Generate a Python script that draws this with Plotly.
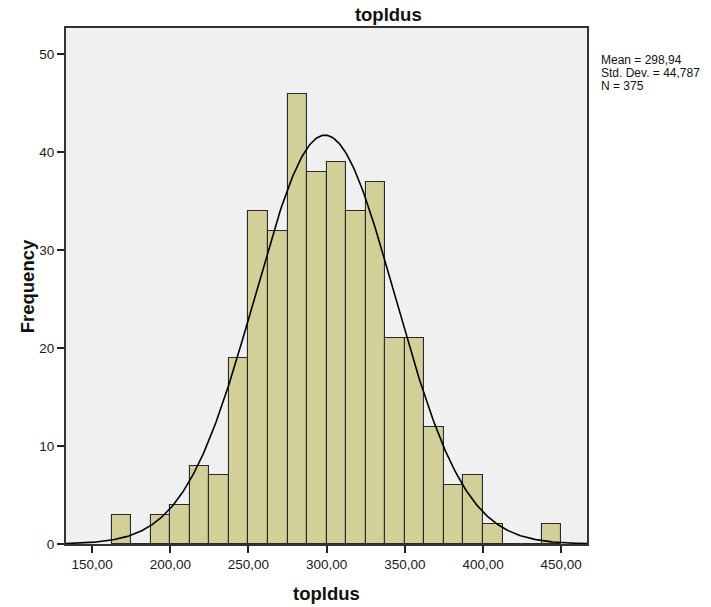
import numpy as np
import plotly.graph_objects as go

# ---- data ----
bin_lower = [162.5, 175.0, 187.5, 200.0, 212.5, 225.0, 237.5, 250.0, 262.5, 275.0,
             287.5, 300.0, 312.5, 325.0, 337.5, 350.0, 362.5, 375.0, 387.5, 400.0,
             412.5, 425.0, 437.5]
counts = [3, 0, 3, 4, 8, 7, 19, 34, 32, 46,
          38, 39, 34, 37, 21, 21, 12, 6, 7, 2,
          0, 0, 2]
bin_width = 12.5
mean_val = 298.94
std_val = 44.787
n_val = 375

x_tickvals = [150, 200, 250, 300, 350, 400, 450]
x_ticktext = ["150,00", "200,00", "250,00", "300,00", "350,00", "400,00", "450,00"]
y_tickvals = [0, 10, 20, 30, 40, 50]
stats_lines = ["Mean = 298,94", "Std. Dev. = 44,787", "N = 375"]

x_range = [133.3, 466.5]
y_range = [0, 52.7]

centers = [b + bin_width / 2 for b in bin_lower]

# fitted normal curve scaled to frequency
xs = np.linspace(x_range[0], x_range[1], 400)
ys = n_val * bin_width / (std_val * np.sqrt(2 * np.pi)) * np.exp(-0.5 * ((xs - mean_val) / std_val) ** 2)

FONT = "Liberation Sans, Arial, sans-serif"

W, H = 711, 607
plot_l, plot_r, plot_t, plot_b = 65.7, 586.7, 28.3, 544

fig = go.Figure()
fig.add_trace(go.Bar(
    x=centers, y=counts, width=bin_width,
    marker=dict(color="#D3CF98", line=dict(color="#2a2a2a", width=1.1)),
    hoverinfo="x+y", showlegend=False,
))
fig.add_trace(go.Scatter(
    x=xs, y=ys, mode="lines",
    line=dict(color="#000000", width=1.6),
    hoverinfo="skip", showlegend=False,
))

fig.update_layout(
    width=W, height=H,
    margin=dict(l=plot_l, r=W - plot_r, t=plot_t, b=H - plot_b, autoexpand=False),
    paper_bgcolor="#FFFFFF",
    plot_bgcolor="#F0F0F0",
    bargap=0,
    font=dict(family=FONT, color="#1a1a1a", size=13.5),
    title=dict(
        text="<b>topldus</b>", font=dict(family=FONT, size=18.5, color="#111111"),
        xref="paper", x=(388 - plot_l) / (plot_r - plot_l), xanchor="center",
        yref="container", y=1 - 14.5 / H, yanchor="middle",
    ),
)

fig.update_xaxes(
    range=x_range, tickvals=x_tickvals, ticktext=x_ticktext,
    showgrid=False, zeroline=False,
    showline=True, mirror=True, linecolor="#333333", linewidth=2,
    ticks="outside", ticklen=7, tickwidth=1.5, tickcolor="#222222",
    tickfont=dict(family=FONT, size=13.5, color="#1a1a1a"),
)
fig.update_yaxes(
    range=y_range, tickvals=y_tickvals,
    showgrid=False, zeroline=False,
    showline=True, mirror=True, linecolor="#333333", linewidth=2,
    ticks="outside", ticklen=7, tickwidth=1.5, tickcolor="#222222",
    tickfont=dict(family=FONT, size=13.5, color="#1a1a1a"),
)

# axis titles
fig.add_annotation(
    text="<b>topldus</b>", xref="paper", yref="paper", x=0.5, y=0,
    xanchor="center", yanchor="middle", yshift=-49, showarrow=False,
    font=dict(family=FONT, size=18.5, color="#111111"),
)
fig.add_annotation(
    text="<b>Frequency</b>", xref="paper", yref="paper", x=0, y=0.5,
    xanchor="center", yanchor="middle", xshift=-38.7, textangle=-90, showarrow=False,
    font=dict(family=FONT, size=18.5, color="#111111"),
)

# statistics box text
for line, py in zip(stats_lines, [60.7, 73.6, 86.5]):
    fig.add_annotation(
        text=line, xref="paper", yref="paper", x=1, y=1,
        xanchor="left", yanchor="middle", xshift=12.3, yshift=-(py - 28.3),
        showarrow=False, align="left",
        font=dict(family=FONT, size=12, color="#111111"),
    )

fig.write_html(
    "out.html",
    config={"displayModeBar": False},
    post_script="document.body.style.margin='0';document.body.style.overflow='hidden';",
)
